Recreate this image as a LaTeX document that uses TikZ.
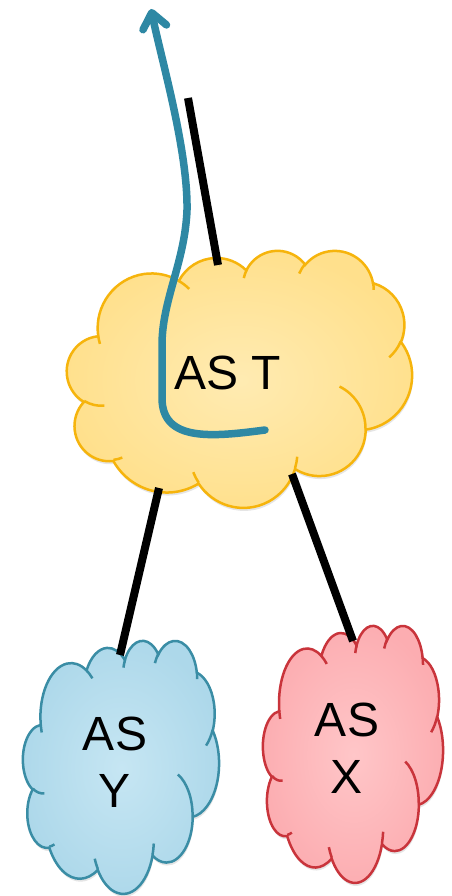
\documentclass[tikz,border=0pt]{standalone}
\usepackage{fontspec}
\setmainfont{Liberation Sans}
\usetikzlibrary{arrows.meta,shadows}

\definecolor{cloudTfill}{HTML}{FFEBB2}
\definecolor{cloudTedge}{HTML}{FFE08C}
\definecolor{cloudTline}{HTML}{F6B40C}
\definecolor{cloudYfill}{HTML}{C6E6F3}
\definecolor{cloudYedge}{HTML}{ADD8EA}
\definecolor{cloudYline}{HTML}{3A8DA5}
\definecolor{cloudXfill}{HTML}{FFC6C8}
\definecolor{cloudXedge}{HTML}{FCADB1}
\definecolor{cloudXline}{HTML}{C9343B}
\definecolor{flowblue}{HTML}{2E88A4}

\tikzset{
  % elliptical arc from radii and visual (not parametric) start angle and sweep
  pp/.code n args={4}{%
    \pgfmathsetmacro\ppStart{atan2((#1)*sin(#3),(#2)*cos(#3))}%
    \pgfmathsetmacro\ppEnd{atan2((#1)*sin((#3)+(#4)),(#2)*cos((#3)+(#4)))}%
    \pgfmathsetmacro\ppEnd{\ppStart+mod(\ppEnd-\ppStart+720,360)}%
    \edef\ppKeys{\noexpand\tikzset{x radius=#1,y radius=#2,start angle=\ppStart,end angle=\ppEnd}}%
    \ppKeys
  },
  cloudbody/.style={line width=2.5pt, draw=#1line, inner color=#1fill, outer color=#1edge,
    drop shadow={shadow xshift=0.8pt, shadow yshift=-3pt, opacity=0.2}},
  crease/.style={line width=2.5pt, draw=#1line},
  link/.style={line width=8pt, draw=black,
    preaction={draw=black, opacity=0.15, transform canvas={xshift=1.5pt,yshift=-1.5pt}}},
  flow/.style={line width=7.5pt, draw=flowblue, line cap=round, line join=round,
    -{Straight Barb[length=15pt,width=24pt,round]},
    preaction={draw=black, opacity=0.22, transform canvas={xshift=1.2pt,yshift=-1.8pt}}},
  astext/.style={font=\fontsize{48}{57}\selectfont, align=center, inner sep=0pt},
}

% cloud outline in a 432 x 432 box, y pointing down
\newcommand\cloudOutline{(39.00,143.70)
  arc[pp={67.53}{91.90}{-190.487483}{123.780533}]
  arc[pp={53.33}{72.67}{-144.102383}{89.945233}]
  arc[pp={43.65}{59.45}{-145.807917}{99.723017}]
  arc[pp={48.57}{65.95}{-130.986067}{117.241733}]
  arc[pp={53.33}{72.73}{-78.708883}{109.026917}]
  arc[pp={67.75}{92.20}{-46.26725}{130.269}]
  arc[pp={57.85}{78.67}{0.625017}{114.033333}]
  arc[pp={67.52}{92.15}{22.4516}{115.17255}]
  arc[pp={77.20}{105.43}{66.242633}{75.711017}]
  arc[pp={43.60}{59.18}{-274.942083}{146.735567}]
  arc[pp={43.45}{59.45}{-246.8285}{152.51885}]
  -- cycle}

% the short inner arcs between the puffs
\newcommand\cloudCreases{
  (46.93,261.77) arc[pp={43.45}{59.45}{86.742}{26.4295}]
  (69.28,348.99) arc[pp={43.60}{59.18}{73.610467}{11.447467}]
  (164.78,390.90) arc[pp={67.52}{92.15}{137.62415}{14.0811}]
  (288.27,347.51) arc[pp={67.52}{92.15}{6.453267}{15.99835}]
  (341.29,229.54) arc[pp={57.85}{78.67}{-70.29235}{70.917367}]
  (417.98,153.54) arc[pp={53.33}{72.73}{30.318033}{27.7515}]
  (383.24,54.26) arc[pp={48.57}{65.95}{-13.744333}{14.8589}]
  (290.78,39.52) arc[pp={48.57}{65.95}{-149.18145}{18.195367}]
  (221.41,47.20) arc[pp={43.65}{59.45}{-163.494267}{17.68635}]
  (140.00,51.92) arc[pp={67.53}{91.90}{-66.70695}{12.31935}]
  (41.27,157.89) arc[pp={67.53}{91.90}{157.65435}{11.858167}]
}

\begin{document}
\begin{tikzpicture}[x=1pt,y=-1pt]
\useasboundingbox[fill=white] (0,0) rectangle (452,896);

% the three clouds
\begin{scope}[shift={(67,250)},x=0.7986pt,y=-0.5949pt]
  \path[cloudbody=cloudT] \cloudOutline;
  \path[crease=cloudT] \cloudCreases;
\end{scope}
\begin{scope}[shift={(23,640)},x=0.4537pt,y=-0.5856pt]
  \path[cloudbody=cloudY] \cloudOutline;
  \path[crease=cloudY] \cloudCreases;
\end{scope}
\begin{scope}[shift={(263,625)},x=0.4167pt,y=-0.5949pt]
  \path[cloudbody=cloudX] \cloudOutline;
  \path[crease=cloudX] \cloudCreases;
\end{scope}

\node[astext] (T) at (228,373) {AS T};
\node[astext] (Y) at (115,762) {AS\\Y};
\node[astext] (X) at (347,748) {AS\\X};

% attachment points on the clouds
\coordinate (T-top) at (218,265);
\coordinate (wire-end) at (188,98);
\coordinate (T-sw) at (159,488);
\coordinate (Y-top) at (120,655);
\coordinate (T-se) at (292,474);
\coordinate (X-top) at (353,641);

\draw[link] (T-top) -- (wire-end);
\draw[link] (T-sw) -- (Y-top);
\draw[link] (T-se) -- (X-top);

% route leaving AS T upwards
\coordinate (flow-start) at (265,430);
\coordinate (flow-end) at (151,9);
\draw[flow] (flow-start) .. controls (212,437) and (162,442) .. (162,398)
  -- (162,345) .. controls (162,300) and (185,262) .. (187,210)
  .. controls (188,150) and (161,58) .. (flow-end);
\end{tikzpicture}
\end{document}
